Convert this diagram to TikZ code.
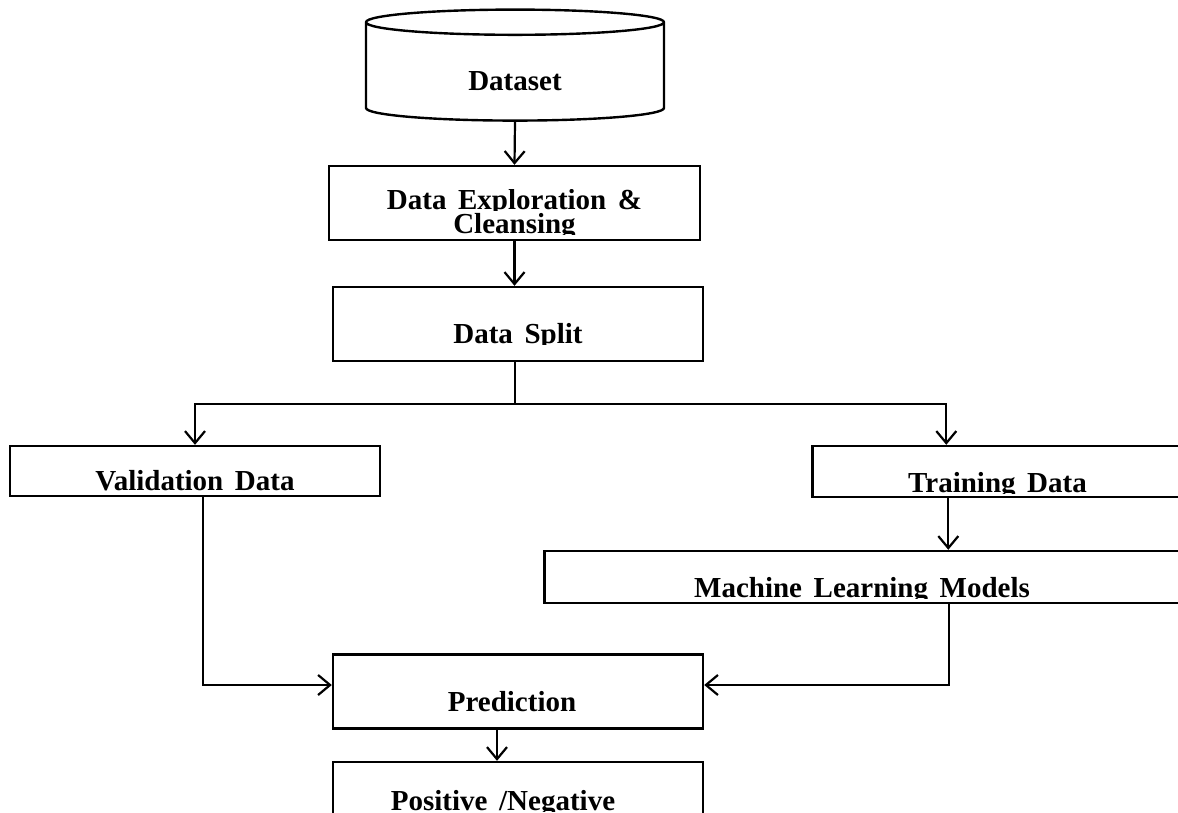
\documentclass[tikz,border=0pt]{standalone}
\usepackage{fontspec}
\setmainfont{Liberation Serif}[WordSpace={1.6}]
\usepackage{trimclip}
\usepackage{tikz}
\usetikzlibrary{arrows.meta,positioning,shapes.geometric,calc}
\newcommand{\cutline}[1]{\clipbox{0pt {\depth-0.75pt} 0pt 0pt}{#1}}

\begin{document}
\begin{tikzpicture}[x=0.5pt,y=-0.5pt,>={Straight Barb[length=6pt,width=10pt]}]
\tikzstyle{stepbox}=[draw,line width=1.2pt,minimum height=37pt,inner sep=0pt,text height=19pt,text depth=0pt,font=\bfseries\fontsize{14.5}{10.75}\selectfont]
\tikzstyle{link}=[line width=1.1pt]
\useasboundingbox (0,0) rectangle (1178,813);
\clip (0,0) rectangle (1178,813);
\node[cylinder,shape border rotate=90,aspect=0.27,draw,line width=1.2pt,minimum width=149pt,minimum height=55.5pt,text height=19pt,text depth=0pt,inner sep=0pt,font=\bfseries\fontsize{14.5}{17}\selectfont] (dataset) at (515,72) {Dataset};
\node[stepbox,minimum width=185.5pt,text height=30pt,align=center] (explore) at (514.5,203) {\cutline{Data Exploration \&}\\\cutline{Cleansing}};
\node[stepbox,minimum width=185pt] (split) at (518,324) {\cutline{Data Split}};
\node[stepbox,minimum width=185pt,minimum height=25pt,text height=19pt] (valid) at (195,471) {Validation Data};
\node[stepbox,minimum width=185pt,minimum height=25.5pt,text height=20.5pt] (train) at (997.5,471.5) {\cutline{Training Data}};
\node[stepbox,minimum width=317.5pt,minimum height=26pt,text height=20pt] (models) at (862,577) {\cutline{Machine Learning Models}};
\node[stepbox,minimum width=185pt,text height=19.5pt] (pred) at (518,691.5) {Prediction\hspace*{6pt}};
\node[stepbox,minimum width=185pt,text height=11pt] (result) at (518,799) {\cutline{Positive /Negative}\hspace*{15pt}};
\coordinate (fork) at (515,404);
\coordinate (join) at (0,685);
\coordinate (tdrop) at ($(train.south west)+(137,0)$);
\coordinate (mdrop) at ($(models.south west)+(406,0)$);
\coordinate (vdrop) at ($(valid.south west)+(194,0)$);
\coordinate (pdrop) at ($(pred.south)+(-21,0)$);
\draw[link,->] (dataset.south) -- (explore.north);
\draw[link,->] (explore.south) -- (explore.south |- split.north);
\draw[link] (split.south -| fork) -- (fork);
\draw[link,->] (fork) -| (valid.north);
\draw[link,->] (fork) -| ($(train.north west)+(135,0)$);
\draw[link,->] (tdrop) -- (tdrop |- models.north);
\draw[link,->] (vdrop) |- (join -| pred.west);
\draw[link,->] (mdrop) |- (join -| pred.east);
\draw[link,->] (pdrop) -- (pdrop |- result.north);
\end{tikzpicture}
\end{document}
